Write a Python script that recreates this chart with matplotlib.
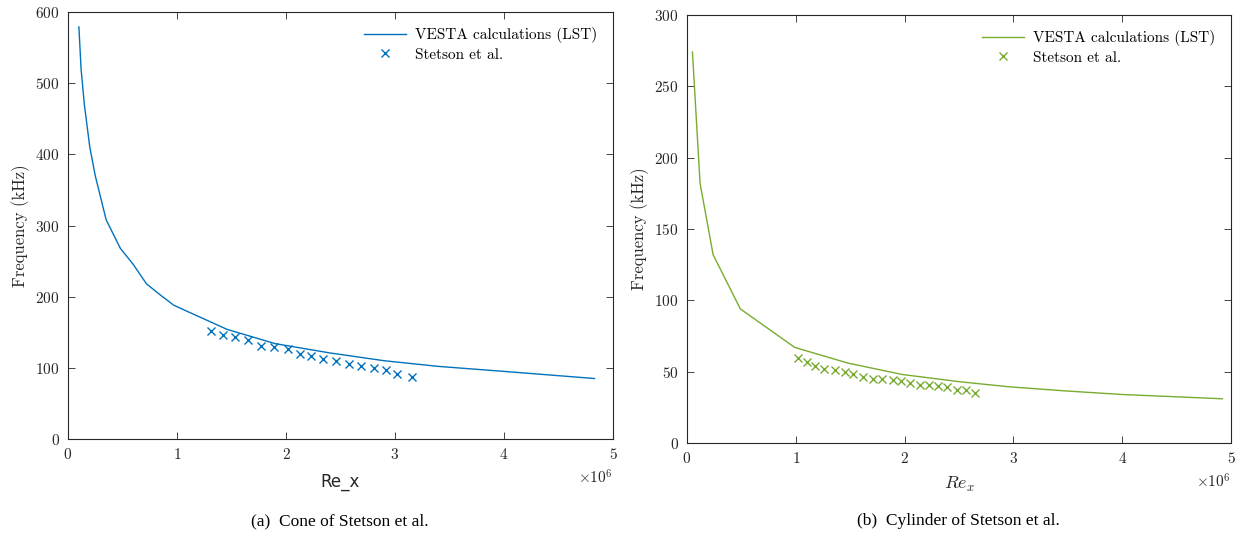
import matplotlib
matplotlib.use("Agg")
import matplotlib.pyplot as plt
import numpy as np

plt.rcParams['font.family'] = 'cmr10'
plt.rcParams['mathtext.fontset'] = 'cm'
plt.rcParams['axes.formatter.use_mathtext'] = True

# Cone (a)
cone_line_x = [0.10, 0.12, 0.15, 0.20, 0.25, 0.35, 0.48, 0.60, 0.72, 0.85, 0.97,
               1.20, 1.46, 1.90, 2.40, 2.90, 3.40, 4.00, 4.83]
cone_line_y = [579, 520, 470, 410, 370, 308, 268, 245, 218, 202, 188,
               172, 154, 134, 121, 110, 102, 95, 85]
cone_exp_x = [1.31, 1.42, 1.53, 1.65, 1.77, 1.89, 2.02, 2.13, 2.23, 2.34, 2.46,
              2.58, 2.69, 2.81, 2.92, 3.02, 3.16]
cone_exp_y = [152, 146, 144, 139, 130, 129, 126, 120, 117, 113, 109,
              106, 102, 100, 97, 91, 87]

# Cylinder (b)
cyl_line_x = [0.05, 0.12, 0.24, 0.49, 0.99, 1.48, 1.98, 2.50, 2.96, 3.46, 4.00, 4.92]
cyl_line_y = [274, 182, 132, 94, 67, 56, 48, 43, 39.4, 36.6, 34, 31]
cyl_exp_x = [1.02, 1.10, 1.18, 1.26, 1.36, 1.45, 1.53, 1.62, 1.71, 1.79,
             1.89, 1.97, 2.05, 2.14, 2.22, 2.31, 2.39, 2.48, 2.56, 2.65]
cyl_exp_y = [59.9, 57.0, 53.8, 52.1, 50.9, 49.5, 48.6, 46.5, 45.1, 44.8,
             44.1, 43.4, 42.0, 40.8, 40.4, 40.1, 39.0, 37.1, 37.1, 35.2]

xticks = [0, 1, 2, 3, 4, 5]
blue = '#0072BD'
green = '#77AC30'

fig = plt.figure(figsize=(12.39, 5.37), dpi=100)
ax1 = fig.add_axes([68/1239, 1-439/537, (613-68)/1239, (439-12)/537])
ax2 = fig.add_axes([687/1239, 1-443/537, (1231-687)/1239, (443-15)/537])

def style(ax, ylim, yticks):
    ax.set_xlim(0, 5)
    ax.set_ylim(*ylim)
    ax.set_xticks(xticks)
    ax.set_yticks(yticks)
    ax.tick_params(direction='in', top=True, right=True, labelsize=11,
                   length=5, width=0.6, colors='#262626', labelcolor='#262626', pad=6)
    for s in ax.spines.values():
        s.set_linewidth(0.8)
        s.set_color('#262626')
    ax.set_ylabel('Frequency (kHz)', fontsize=12, color='#262626')
    ax.text(1.0, -0.07, r'$\times10^{6}$', transform=ax.transAxes, ha='right', va='top',
            fontsize=11, color='#262626')

ax1.plot(cone_line_x, cone_line_y, color=blue, lw=1.0, label='VESTA calculations (LST)')
ax1.plot(cone_exp_x, cone_exp_y, ls='none', marker='x', ms=6, mew=1.0, color=blue,
         label='Stetson et al.')
style(ax1, (0, 600), range(0, 601, 100))
ax1.set_xlabel('Re_x', fontsize=12, family='Liberation Sans Narrow', color='#262626', labelpad=8)

ax2.plot(cyl_line_x, cyl_line_y, color=green, lw=1.0, label='VESTA calculations (LST)')
ax2.plot(cyl_exp_x, cyl_exp_y, ls='none', marker='x', ms=6, mew=1.0, color=green,
         label='Stetson et al.')
style(ax2, (0, 300), range(0, 301, 50))
ax2.set_xlabel(r'$Re_x$', fontsize=13, color='#262626', labelpad=6)

for ax in (ax1, ax2):
    ax.legend(loc='upper right', frameon=False, fontsize=11, handlelength=2.8,
              handletextpad=0.6, borderaxespad=0.6, labelspacing=0.3)

fig.text(340/1239, 1-521/537, '(a)  Cone of Stetson et al.', ha='center', va='center',
         fontsize=12.5, family='Liberation Serif')
fig.text(958/1239, 1-521/537, '(b)  Cylinder of Stetson et al.', ha='center', va='center',
         fontsize=12.5, family='Liberation Serif')

fig.savefig('out.png', dpi=100)
